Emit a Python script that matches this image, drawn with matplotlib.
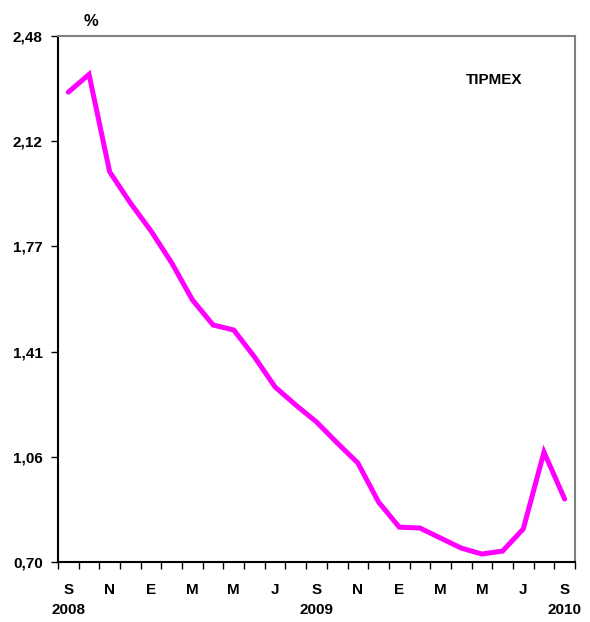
import matplotlib.pyplot as plt
import numpy as np

plt.rcParams['font.family'] = ['Liberation Sans', 'DejaVu Sans']

# monthly values, sep 2008 .. sep 2010
months = ['S', 'O', 'N', 'D', 'E', 'F', 'M', 'A', 'M', 'J', 'J', 'A',
          'S', 'O', 'N', 'D', 'E', 'F', 'M', 'A', 'M', 'J', 'J', 'A', 'S']
tipmex = [2.29, 2.35, 2.02, 1.915, 1.82, 1.712, 1.587, 1.502, 1.485, 1.394, 1.292, 1.231,
          1.174, 1.103, 1.035, 0.903, 0.818, 0.815, 0.781, 0.747, 0.727, 0.737, 0.812, 1.072, 0.913]
years = {0: '2008', 12: '2009', 24: '2010'}
ytick_labels = ['0,70', '1,06', '1,41', '1,77', '2,12', '2,48']

fig = plt.figure(figsize=(5.9, 6.22), dpi=100)
ax = fig.add_axes([58 / 590, 60 / 622, 517 / 590, 526 / 622])

x = np.arange(len(tipmex))
ax.plot(x, tipmex, color='#FF00FF', lw=3.6, solid_joinstyle='miter', solid_capstyle='round')

ax.set_xlim(-0.5, len(tipmex) - 0.5)
ax.set_ylim(0.70, 2.48)

ax.set_yticks(np.linspace(0.70, 2.48, 6))
ax.set_yticklabels(ytick_labels, fontsize=11, fontweight='bold')
ax.tick_params(axis='y', length=5, width=1, pad=6, color='black')

# labels every other month, tick marks at month boundaries
ax.set_xticks(x[::2])
ax.set_xticklabels(months[::2], fontsize=11, fontweight='bold')
ax.set_xticks(np.arange(len(tipmex) + 1) - 0.5, minor=True)
ax.tick_params(axis='x', which='major', length=0, pad=15)
ax.tick_params(axis='x', which='minor', length=5, width=1, color='black')

for i, yr in years.items():
    ax.text(i, -0.091, yr, transform=ax.get_xaxis_transform(), ha='center', va='center',
            fontsize=11, fontweight='bold')

ax.text(0.063, 1.027, '%', transform=ax.transAxes, ha='center', va='center', fontsize=12, fontweight='bold')
ax.text(0.843, 0.916, 'TIPMEX', transform=ax.transAxes, ha='center', va='center', fontsize=11, fontweight='bold')

for s in ['left', 'bottom']:
    ax.spines[s].set_color('black')
    ax.spines[s].set_linewidth(1.5)
for s in ['top', 'right']:
    ax.spines[s].set_color('#808080')
    ax.spines[s].set_linewidth(1.5)

fig.savefig('out.png', dpi=100)
